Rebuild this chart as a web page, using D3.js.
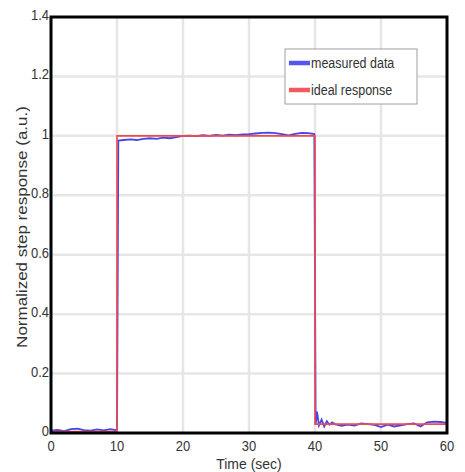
<!DOCTYPE html>
<html>
<head>
<meta charset="utf-8">
<script src="https://cdn.jsdelivr.net/npm/d3@7"></script>
<style>
  body { margin: 0; background: #fff; }
  svg text { font-family: "Liberation Sans", Arial, sans-serif; fill: #333; }
</style>
</head>
<body>
<div id="chart"></div>
<script>
// measured step response (time in sec, normalized value)
var measuredTime = [0, 1, 2, 3, 4, 5, 6, 7, 8, 9, 9.8, 10.0, 10.2, 11, 12, 13, 14, 15, 16, 17, 18, 19,
  20, 21, 22, 23, 24, 25, 26, 27, 28, 29, 30, 31, 32, 33, 34, 35, 36, 37, 38, 39, 39.9,
  40.1, 40.3, 40.6, 41, 41.4, 41.8, 42.2, 42.6, 43, 44, 45, 46, 47, 48, 49, 50, 51, 52, 53,
  54, 55, 56, 57, 58, 59, 60];
var measuredValue = [0.008, 0.010, 0.006, 0.013, 0.015, 0.010, 0.008, 0.012, 0.009, 0.013, 0.010, 0.012, 0.984, 0.986, 0.988, 0.986, 0.990, 0.992, 0.990, 0.994, 0.992, 0.996,
  1.000, 1.001, 0.999, 1.002, 1.000, 1.003, 1.001, 1.004, 1.002, 1.005, 1.006, 1.008, 1.010, 1.011, 1.009, 1.006, 1.002, 1.007, 1.010, 1.009, 1.006,
  0.030, 0.072, 0.025, 0.045, 0.022, 0.040, 0.028, 0.036, 0.030, 0.024, 0.028, 0.025, 0.032, 0.030, 0.027, 0.020, 0.028, 0.022, 0.026,
  0.030, 0.032, 0.022, 0.036, 0.038, 0.037, 0.034];

// ideal response
var idealTime = [0, 10, 10, 40, 40, 60];
var idealValue = [0.005, 0.005, 1.0, 1.0, 0.03, 0.03];

var xTicks = [0, 10, 20, 30, 40, 50, 60];
var yTicks = [0, 0.2, 0.4, 0.6, 0.8, 1, 1.2, 1.4];
var legendLabels = ["measured data", "ideal response"];

var W = 465, H = 472;
var margin = {left: 51, top: 17, right: 18, bottom: 39};
var stretch = 1.18; // the original picture is a bit taller than wide

var svg = d3.select("#chart").append("svg")
    .attr("width", W)
    .attr("height", H);

var x = d3.scaleLinear().domain([0, 60]).range([margin.left, W - margin.right]);
var y = d3.scaleLinear().domain([0, 1.4]).range([H - margin.bottom, margin.top]);

// grid
svg.append("g").selectAll("line")
    .data(xTicks.slice(1, -1))
    .enter().append("line")
    .attr("x1", d => x(d)).attr("x2", d => x(d))
    .attr("y1", y(0)).attr("y2", y(1.4))
    .attr("stroke", "#e6e6e6").attr("stroke-width", 2.5);
svg.append("g").selectAll("line")
    .data(yTicks.slice(1, -1))
    .enter().append("line")
    .attr("x1", x(0)).attr("x2", x(60))
    .attr("y1", d => y(d)).attr("y2", d => y(d))
    .attr("stroke", "#e6e6e6").attr("stroke-width", 2.5);

// tick labels
var fmt = d3.format("~g");
svg.append("g").selectAll("text")
    .data(xTicks)
    .enter().append("text")
    .attr("transform", d => "translate(" + x(d) + "," + (y(0) + 18) + ") scale(1," + stretch + ")")
    .attr("text-anchor", "middle")
    .style("font-size", "13px")
    .text(d => fmt(d));
svg.append("g").selectAll("text")
    .data(yTicks)
    .enter().append("text")
    .attr("transform", d => "translate(" + (x(0) - 2) + "," + (y(d) + 3) + ") scale(1," + stretch + ")")
    .attr("text-anchor", "end")
    .style("font-size", "13px")
    .text(d => fmt(d));

var line = d3.line().x(d => x(d[0])).y(d => y(d[1]));

var ideal = idealTime.map((t, i) => [t, idealValue[i]]);
var measured = measuredTime.map((t, i) => [t, measuredValue[i]]);

svg.append("path").datum(measured)
    .attr("d", line)
    .attr("fill", "none")
    .attr("stroke", "#4545e8")
    .attr("stroke-width", 1.8);

svg.append("path").datum(ideal)
    .attr("d", line)
    .attr("fill", "none")
    .attr("stroke", "#f04a4f")
    .attr("stroke-width", 1.6);

// frame
svg.append("rect")
    .attr("x", x(0)).attr("y", y(1.4))
    .attr("width", x(60) - x(0)).attr("height", y(0) - y(1.4))
    .attr("fill", "none").attr("stroke", "#000").attr("stroke-width", 3);

// legend
var lg = svg.append("g").attr("transform", "translate(285,49)");
lg.append("rect")
    .attr("width", 132).attr("height", 55)
    .attr("fill", "#fff").attr("stroke", "#a0a0a0").attr("stroke-width", 1);
var legendColors = ["#5555f0", "#f25a5e"];
legendLabels.forEach(function (lab, i) {
    var yy = 14 + i * 27;
    lg.append("line")
        .attr("x1", 4).attr("x2", 25)
        .attr("y1", yy).attr("y2", yy)
        .attr("stroke", legendColors[i]).attr("stroke-width", 4.5);
    lg.append("text")
        .attr("transform", "translate(26," + (yy + 5) + ") scale(1," + stretch + ")")
        .style("font-size", "12.5px")
        .text(lab);
});

// axis titles
svg.append("text")
    .attr("transform", "translate(" + ((x(0) + x(60)) / 2) + ",469) scale(1,1.1)")
    .attr("text-anchor", "middle")
    .style("font-size", "14px")
    .text("Time (sec)");
svg.append("text")
    .attr("transform", "translate(27,227) rotate(-90) scale(1," + (1 / stretch) + ")")
    .attr("text-anchor", "middle")
    .style("font-size", "17px")
    .text("Normalized step response (a.u.)");
</script>
</body>
</html>
